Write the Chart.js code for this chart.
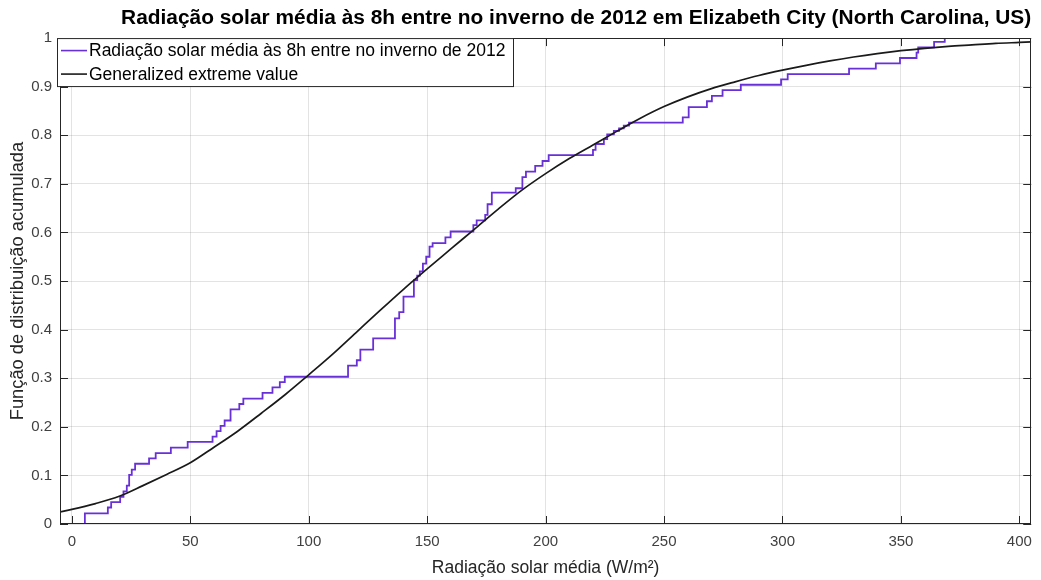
<!DOCTYPE html>
<html>
<head>
<meta charset="utf-8">
<title>Radiação solar média</title>
<script src="https://cdn.jsdelivr.net/npm/chart.js@4.4.1/dist/chart.umd.min.js"></script>
<style>
    html, body { margin: 0; padding: 0; background: #ffffff; }
    #wrap { width: 1041px; height: 580px; }
</style>
</head>
<body>
<div id="wrap"><canvas id="cdfChart" width="1041" height="580"></canvas></div>
<script>
// Dados
var chartTitle = 'Radiação solar média às 8h entre no inverno de 2012 em Elizabeth City (North Carolina, US)';
var xLabel = 'Radiação solar média (W/m²)';
var yLabel = 'Função de distribuição acumulada';
var ecdfLabel = 'Radiação solar média às 8h entre no inverno de 2012';
var gevLabel = 'Generalized extreme value';

var xTicks = [0, 50, 100, 150, 200, 250, 300, 350, 400];
var yTicks = [0, 0.1, 0.2, 0.3, 0.4, 0.5, 0.6, 0.7, 0.8, 0.9, 1];

// Função empírica (degraus)
var ecdfX = [5.5, 5.5, 15.2, 16.6, 20.4, 21.8, 23.2, 24.2, 25.3, 26.7, 32.6, 35.4, 41.8, 48.9,
    59.4, 61.1, 62.8, 64.5, 67.0, 70.7, 72.4, 80.5, 84.7, 87.8, 89.9,
    116.6, 120.3, 121.8, 127.2, 136.4, 138.2, 140.0, 144.4, 145.8, 146.9, 148.2, 149.6, 151.0, 152.3,
    157.7, 159.9, 169.5, 170.9, 174.5, 175.5, 177.3, 187.4, 190.2, 191.7, 195.6, 198.7, 201.3,
    220.0, 221.1, 224.6, 226.0, 228.8, 231.0, 233.0, 235.2, 257.9, 260.4, 268.1, 270.2, 274.7, 282.4,
    299.4, 302.2, 328.1, 339.4, 349.6, 356.6, 357.3, 364.0, 368.5];
var ecdfY = [0, 0.022, 0.034, 0.045, 0.056, 0.067, 0.079, 0.101, 0.112, 0.124, 0.135, 0.146, 0.157, 0.169,
    0.180, 0.191, 0.202, 0.213, 0.236, 0.247, 0.258, 0.270, 0.281, 0.292, 0.303,
    0.326, 0.337, 0.359, 0.382, 0.423, 0.436, 0.468, 0.502, 0.511, 0.520, 0.536, 0.550, 0.571, 0.578,
    0.590, 0.602, 0.615, 0.625, 0.636, 0.658, 0.682, 0.691, 0.714, 0.725, 0.737, 0.747, 0.759,
    0.770, 0.782, 0.792, 0.802, 0.809, 0.814, 0.820, 0.826, 0.837, 0.858, 0.870, 0.881, 0.893, 0.904,
    0.915, 0.926, 0.937, 0.948, 0.959, 0.970, 0.981, 0.992, 1.0];

// Curva ajustada (GEV)
var gevX = [-5, 0, 10, 20, 30, 40, 50, 60, 70, 80, 90, 100, 110, 120, 130, 140, 150, 160, 170, 180,
    190, 200, 210, 220, 230, 240, 250, 260, 270, 280, 290, 300, 310, 320, 330, 340, 350, 360, 370,
    380, 390, 400, 405];
var gevY = [0.025, 0.030, 0.042, 0.057, 0.079, 0.102, 0.126, 0.158, 0.191, 0.228, 0.266, 0.307, 0.349,
    0.394, 0.439, 0.483, 0.525, 0.566, 0.607, 0.648, 0.687, 0.721, 0.752, 0.780, 0.808, 0.835, 0.859,
    0.879, 0.896, 0.910, 0.923, 0.934, 0.944, 0.953, 0.961, 0.968, 0.974, 0.979, 0.983, 0.986, 0.989,
    0.991, 0.992];

var FONT = '"Liberation Sans", Arial, Helvetica, sans-serif';
var AXIS_COLOR = '#262626';
var ECDF_COLOR = '#6a30d8';
var GEV_COLOR = '#1a1a1a';

function toPoints(xs, ys) {
    return xs.map(function(x, i) { return { x: x, y: ys[i] }; });
}

// Moldura e marcas internas (estilo MATLAB)
var axesBox = {
    id: 'axesBox',
    afterDatasetsDraw: function(chart) {
        var ctx = chart.ctx, a = chart.chartArea;
        var xs = chart.scales.x, ys = chart.scales.y;
        var len = 8;
        ctx.save();
        ctx.strokeStyle = AXIS_COLOR;
        ctx.lineWidth = 1;
        ctx.beginPath();
        xs.ticks.forEach(function(t) {
            var px = Math.round(xs.getPixelForValue(t.value)) + 0.5;
            ctx.moveTo(px, a.bottom); ctx.lineTo(px, a.bottom - len);
            ctx.moveTo(px, a.top); ctx.lineTo(px, a.top + len);
        });
        ys.ticks.forEach(function(t) {
            var py = Math.round(ys.getPixelForValue(t.value)) + 0.5;
            ctx.moveTo(a.left, py); ctx.lineTo(a.left + len, py);
            ctx.moveTo(a.right, py); ctx.lineTo(a.right - len, py);
        });
        ctx.stroke();
        ctx.strokeRect(Math.round(a.left) + 0.5, Math.round(a.top) + 0.5,
            Math.round(a.right - a.left) - 1, Math.round(a.bottom - a.top) - 1);
        ctx.restore();
    }
};

// Legenda dentro do gráfico
var boxLegend = {
    id: 'boxLegend',
    afterDraw: function(chart) {
        var ctx = chart.ctx, a = chart.chartArea;
        var items = [chart.data.datasets[0], chart.data.datasets[1]];
        var left = a.left - 3, top = a.top, w = 456, rowH = 23.5;
        ctx.save();
        ctx.fillStyle = '#ffffff';
        ctx.fillRect(left, top, w, rowH * 2 + 1);
        ctx.strokeStyle = AXIS_COLOR;
        ctx.lineWidth = 1;
        ctx.strokeRect(left + 0.5, top + 0.5, w, rowH * 2 + 1);
        ctx.font = '17.5px ' + FONT;
        ctx.textBaseline = 'middle';
        items.forEach(function(ds, i) {
            var y = top + 12.5 + i * rowH;
            ctx.strokeStyle = ds.borderColor;
            ctx.lineWidth = 1.6;
            ctx.beginPath();
            ctx.moveTo(left + 4, y);
            ctx.lineTo(left + 30, y);
            ctx.stroke();
            ctx.fillStyle = '#000000';
            ctx.fillText(ds.label, left + 32, y + 1);
        });
        ctx.restore();
    }
};

const CdfPage = {
    init: function() {
        var canvas = document.getElementById('cdfChart');
        if (!canvas) return;
        var ctx = canvas.getContext('2d');

        new Chart(ctx, {
            type: 'line',
            data: {
                datasets: [
                    {
                        label: ecdfLabel,
                        data: toPoints(ecdfX, ecdfY),
                        borderColor: ECDF_COLOR,
                        borderWidth: 1.8,
                        pointRadius: 0,
                        stepped: 'before',
                        fill: false,
                        order: 2
                    },
                    {
                        label: gevLabel,
                        data: toPoints(gevX, gevY),
                        borderColor: GEV_COLOR,
                        borderWidth: 1.7,
                        pointRadius: 0,
                        cubicInterpolationMode: 'monotone',
                        fill: false,
                        order: 1
                    }
                ]
            },
            options: {
                responsive: false,
                animation: false,
                devicePixelRatio: 1,
                layout: { padding: { left: 0, right: 8, top: 0, bottom: 0 } },
                plugins: {
                    legend: { display: false },
                    tooltip: { enabled: false },
                    title: {
                        display: true,
                        text: chartTitle,
                        fullSize: false,
                        align: 'end',
                        color: '#000000',
                        font: { family: FONT, size: 20.9, weight: 'bold', lineHeight: 1.2 },
                        padding: { top: 6, bottom: 7 }
                    }
                },
                scales: {
                    x: {
                        type: 'linear',
                        min: -5,
                        max: 405,
                        afterFit: function(s) { s.height = 56; },
                        afterBuildTicks: function(s) {
                            s.ticks = xTicks.map(function(v) { return { value: v }; });
                        },
                        grid: { color: 'rgba(38,38,38,0.13)', drawTicks: false },
                        border: { display: false },
                        ticks: {
                            color: '#404040',
                            padding: 9,
                            maxRotation: 0,
                            font: { family: FONT, size: 15 }
                        },
                        title: {
                            display: true,
                            text: xLabel,
                            color: AXIS_COLOR,
                            font: { family: FONT, size: 17.5 },
                            padding: { top: 0, bottom: 1 }
                        }
                    },
                    y: {
                        type: 'linear',
                        min: 0,
                        max: 1,
                        afterFit: function(s) { s.width = 60; },
                        afterBuildTicks: function(s) {
                            s.ticks = yTicks.map(function(v) { return { value: v }; });
                        },
                        grid: { color: 'rgba(38,38,38,0.13)', drawTicks: false },
                        border: { display: false },
                        ticks: {
                            color: '#404040',
                            padding: 8,
                            font: { family: FONT, size: 15 },
                            callback: function(v) { return String(Math.round(v * 10) / 10); }
                        },
                        title: {
                            display: true,
                            text: yLabel,
                            color: AXIS_COLOR,
                            font: { family: FONT, size: 18.3 },
                            padding: { top: 7, bottom: 0 }
                        }
                    }
                }
            },
            plugins: [axesBox, boxLegend]
        });
    }
};

document.addEventListener('DOMContentLoaded', function() {
    CdfPage.init();
});
</script>
</body>
</html>
